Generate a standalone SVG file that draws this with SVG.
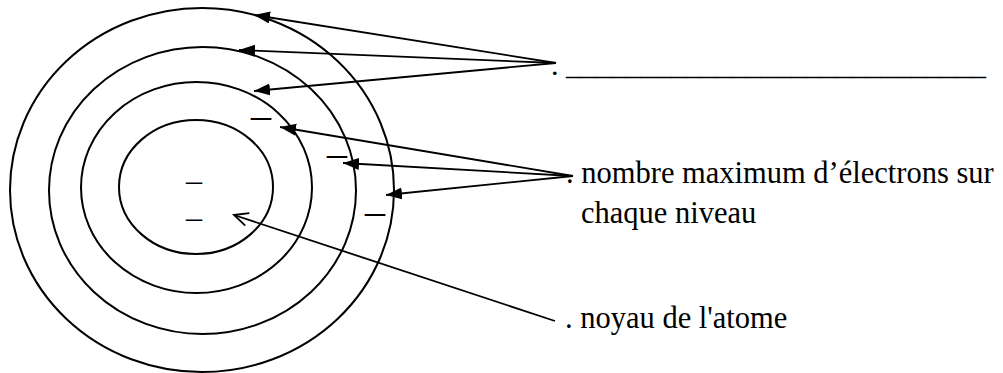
<svg xmlns="http://www.w3.org/2000/svg" width="1003" height="373" viewBox="0 0 1003 373">
<style>
.ring{fill:none;stroke:#000;stroke-width:2}
.conn{fill:none;stroke:#000;stroke-width:1.8}
</style>
<defs>
<marker id="fill" markerUnits="userSpaceOnUse" markerWidth="18" markerHeight="14" refX="16" refY="6" orient="auto">
<path d="M0,0 L16,6 L0,12 z" fill="#000"/>
</marker>
<marker id="open" markerUnits="userSpaceOnUse" markerWidth="18" markerHeight="16" refX="15" refY="7" orient="auto">
<path d="M1,0.5 L15,7 L1,13.5" fill="none" stroke="#000" stroke-width="1.8"/>
</marker>
</defs>
<rect width="1003" height="373" fill="#fff"/>
<g id="atom">
<ellipse class="ring" cx="202" cy="190" rx="192" ry="182"/>
<ellipse class="ring" cx="202.5" cy="190.5" rx="153.5" ry="143.5"/>
<ellipse class="ring" cx="196.5" cy="187.5" rx="115.5" ry="105.5"/>
<ellipse class="ring" cx="196" cy="187" rx="77" ry="67"/>
</g>
<g id="electrons" font-family="Liberation Serif, Times New Roman, serif" fill="#000">
<text x="186" y="180" font-size="32">_</text>
<text x="186" y="217" font-size="32">_</text>
<text x="251" y="115" font-size="40">_</text>
<text x="327" y="153" font-size="40">_</text>
<text x="365" y="211" font-size="40">_</text>
</g>
<g id="connectors">
<line class="conn" x1="556" y1="63" x2="254" y2="15" marker-end="url(#fill)"/>
<line class="conn" x1="556" y1="63" x2="239" y2="50" marker-end="url(#fill)"/>
<line class="conn" x1="556" y1="63" x2="254" y2="91" marker-end="url(#fill)"/>
<line class="conn" x1="573" y1="176" x2="280" y2="127" marker-end="url(#fill)"/>
<line class="conn" x1="573" y1="176" x2="343" y2="163" marker-end="url(#fill)"/>
<line class="conn" x1="573" y1="176" x2="386" y2="195" marker-end="url(#fill)"/>
<line class="conn" x1="555" y1="321" x2="234" y2="215" marker-end="url(#open)"/>
</g>
<g id="label-levels" font-family="Liberation Serif, Times New Roman, serif" font-size="30" fill="#000">
<text x="551" y="75">. ____________________________</text>
</g>
<g id="label-max" font-family="Liberation Serif, Times New Roman, serif" font-size="30.5" fill="#000">
<text x="566" y="183">. nombre maximum d’électrons sur</text>
<text x="581" y="223">chaque niveau</text>
</g>
<g id="label-noyau" font-family="Liberation Serif, Times New Roman, serif" font-size="30.5" fill="#000">
<text x="565" y="328">. noyau de l'atome</text>
</g>
</svg>
